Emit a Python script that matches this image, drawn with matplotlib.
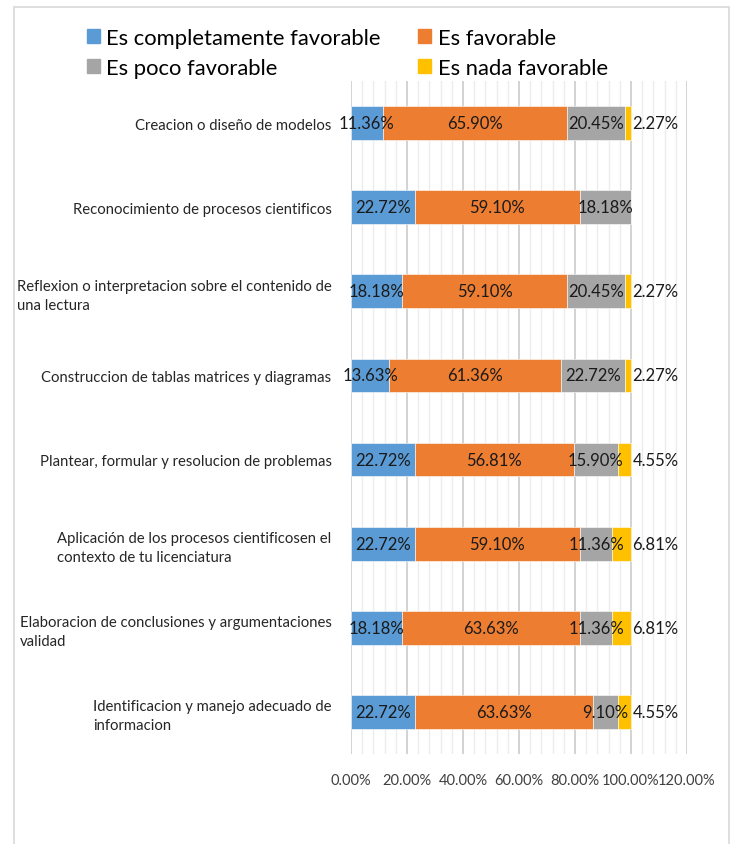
import matplotlib
matplotlib.use("Agg")
import matplotlib.pyplot as plt
from matplotlib.patches import Rectangle, Patch
from matplotlib.ticker import MultipleLocator, FuncFormatter

plt.rcParams['font.family'] = ['Lato', 'DejaVu Sans']

categories = [
    "Creacion o diseño de modelos",
    "Reconocimiento de procesos cientificos",
    "Reflexion o interpretacion sobre el contenido de\nuna lectura",
    "Construccion de tablas matrices y diagramas",
    "Plantear, formular y resolucion de problemas",
    "Aplicación de los procesos cientificosen el\ncontexto de tu licenciatura",
    "Elaboracion de conclusiones y argumentaciones\nvalidad",
    "Identificacion y manejo adecuado de\ninformacion",
]
series_names = ["Es completamente favorable", "Es favorable",
                "Es poco favorable", "Es nada favorable"]
completamente = [11.36, 22.72, 18.18, 13.63, 22.72, 22.72, 18.18, 22.72]
favorable = [65.90, 59.10, 59.10, 61.36, 56.81, 59.10, 63.63, 63.63]
poco = [20.45, 18.18, 20.45, 22.72, 15.90, 11.36, 11.36, 9.10]
nada = [2.27, 0.0, 2.27, 2.27, 4.55, 6.81, 6.81, 4.55]
colors = ["#5B9BD5", "#ED7D31", "#A5A5A5", "#FFC000"]

fig = plt.figure(figsize=(7.37, 8.45), dpi=100)
# outer chart frame
fig.patches.append(Rectangle((14/737, -0.01), (729-14)/737, (845-8)/845 + 0.01,
                             transform=fig.transFigure, fill=False,
                             edgecolor="#d9d9d9", linewidth=1.2))

ax = fig.add_axes([351/737, 1-755/845, 336/737, 673/845])
ypos = list(range(len(categories)))
left = [0.0]*len(categories)
all_series = [completamente, favorable, poco, nada]
for vals, name, c in zip(all_series, series_names, colors):
    ax.barh(ypos, vals, left=left, height=0.4, color=c, label=name,
            edgecolor="white", linewidth=0.4, zorder=3)
    left = [l + v for l, v in zip(left, vals)]

# data labels
for si, vals in enumerate(all_series):
    starts = [sum(all_series[k][i] for k in range(si)) for i in range(len(categories))]
    for i, v in enumerate(vals):
        if v <= 0:
            continue
        if si == 3:
            ax.text(starts[i] + v + 0.5, i, f"{v:.2f}%", ha="left", va="center",
                    fontsize=12, color="#1a1a1a", zorder=4)
        else:
            ax.text(starts[i] + v/2, i, f"{v:.2f}%", ha="center", va="center",
                    fontsize=12, color="#1a1a1a", zorder=4)

ax.set_xlim(0, 120)
ax.set_ylim(len(categories)-0.5, -0.5)
ax.xaxis.set_major_locator(MultipleLocator(20))
ax.xaxis.set_minor_locator(MultipleLocator(4))
ax.xaxis.set_major_formatter(FuncFormatter(lambda x, p: f"{x:.2f}%"))
ax.grid(axis="x", which="major", color="#d0d0d0", linewidth=1.3, zorder=0)
ax.grid(axis="x", which="minor", color="#ececec", linewidth=1.0, zorder=0)
ax.set_axisbelow(True)
for s in ax.spines.values():
    s.set_visible(False)
ax.tick_params(axis="both", which="both", length=0)
ax.tick_params(axis="x", pad=14, labelsize=10.5, labelcolor="#404040")
ax.set_yticks(ypos)
ax.set_yticklabels(categories, fontsize=10.7, color="#262626")
for t in ax.get_yticklabels():
    t.set_multialignment("left")
    t.set_linespacing(1.45)
ax.tick_params(axis="y", pad=14)

handles = [Patch(color=c) for c in colors]
order = [0, 2, 1, 3]
fig.legend([handles[i] for i in order], [series_names[i] for i in order],
           ncol=2, loc="upper left", bbox_to_anchor=(67/737, 1-9/845),
           frameon=False, fontsize=15.8, handlelength=0.6, handleheight=0.6,
           handletextpad=0.3, columnspacing=1.7, labelspacing=0.45)

fig.savefig("out.png", dpi=100)
